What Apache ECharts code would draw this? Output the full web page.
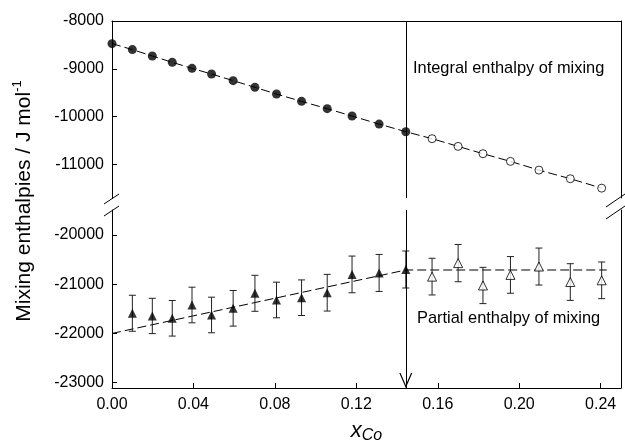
<!DOCTYPE html>
<html>
<head>
<meta charset="utf-8">
<script src="https://cdn.jsdelivr.net/npm/echarts@6/dist/echarts.min.js"></script>
<style>
  html, body { margin: 0; padding: 0; background: #fff; }
  #chart { width: 625px; height: 447px; }
</style>
</head>
<body>
<div id="chart"></div>
<script>
// integral enthalpy (upper panel)
const integralFilledX = [0, 0.0100, 0.0198, 0.0296, 0.0393, 0.0489, 0.0595, 0.0702, 0.0808, 0.0931, 0.1057, 0.1179, 0.1312, 0.1443]
const integralFilledY = [-8473, -8598, -8732, -8864, -8990, -9109, -9247, -9387, -9527, -9680, -9833, -9987, -10155, -10314]
const integralOpenX = [0.1572, 0.1700, 0.1822, 0.1957, 0.2097, 0.2251, 0.2405]
const integralOpenY = [-10460, -10621, -10774, -10935, -11117, -11297, -11494]

// partial enthalpy (lower panel)
const partialFilledX = [0.0100, 0.0198, 0.0296, 0.0393, 0.0489, 0.0595, 0.0702, 0.0808, 0.0931, 0.1057, 0.1179, 0.1312, 0.1443]
const partialFilledY = [-21590, -21645, -21692, -21422, -21625, -21489, -21184, -21320, -21274, -21172, -20800, -20770, -20700]
const partialFilledErr = [366, 359, 362, 362, 362, 362, 366, 362, 362, 373, 373, 376, 376]
const partialOpenX = [0.1572, 0.1700, 0.1822, 0.1957, 0.2097, 0.2251, 0.2405]
const partialOpenY = [-20845, -20570, -21025, -20810, -20640, -20955, -20920]
const partialOpenErr = [373, 379, 369, 373, 376, 373, 373]
const partialFitX = [0, 0.1443, 0.2430]
const partialFitY = [-22000, -20710, -20710]

const divisionX = 0.1443

const xTicks = [0, 0.04, 0.08, 0.12, 0.16, 0.20, 0.24]
const yTicksTop = [-8000, -9000, -10000, -11000]
const yTicksBottom = [-20000, -21000, -22000, -23000]

const FONT = '"Liberation Sans", Arial, Helvetica, sans-serif'
const topMin = -11700, topMax = -8000
const botMin = -23110, botMax = -19490

const zip = (xs, ys) => xs.map((x, i) => [x, ys[i]])
const zip3 = (xs, ys, es) => xs.map((x, i) => [x, ys[i], es[i]])

const chart = echarts.init(document.getElementById('chart'))

const axisLine = { show: true, onZero: false, lineStyle: { color: '#000', width: 1 } }
const lineOnly = {
  type: 'value',
  axisLine: axisLine,
  axisTick: { show: false },
  axisLabel: { show: false },
  splitLine: { show: false }
}
const labelStyle = { color: '#000', fontSize: 16, fontFamily: FONT }
const dashed = { color: '#000', width: 1, type: [9, 4] }
const plain = (v) => String(v)

const errorBars = (params, api) => {
  const x = api.value(0)
  const y = api.value(1)
  const e = api.value(2)
  const hi = api.coord([x, y + e])
  const lo = api.coord([x, y - e])
  const w = 3.5
  const style = { stroke: '#222', lineWidth: 1 }
  return {
    type: 'group',
    children: [
      { type: 'line', shape: { x1: hi[0], y1: hi[1], x2: lo[0], y2: lo[1] }, style: style },
      { type: 'line', shape: { x1: hi[0] - w, y1: hi[1], x2: hi[0] + w, y2: hi[1] }, style: style },
      { type: 'line', shape: { x1: lo[0] - w, y1: lo[1], x2: lo[0] + w, y2: lo[1] }, style: style }
    ]
  }
}

// open "V" arrow, tip at the centre of the symbol box
const arrowPath = 'path://M0,14 L5,0 L10,14 L9,14 L5,2.8 L1,14 Z M5,-14 L5.01,-14 Z'

const option = {
  animation: false,
  backgroundColor: '#fff',
  textStyle: { fontFamily: FONT },
  grid: [
    { left: 112, right: 4, top: 21, height: 177 },
    { left: 112, right: 4, top: 210, height: 178 }
  ],
  xAxis: [
    Object.assign({}, lineOnly, { gridIndex: 0, min: 0, max: 0.25, position: 'top' }),
    {
      type: 'value',
      gridIndex: 1,
      min: 0,
      max: 0.25,
      position: 'bottom',
      axisLine: axisLine,
      axisTick: { inside: true, length: 5, customValues: xTicks, lineStyle: { color: '#000' } },
      axisLabel: Object.assign({ customValues: xTicks, margin: 9, formatter: (v) => v.toFixed(2) }, labelStyle),
      splitLine: { show: false },
      name: '{x|x}{sub|Co}',
      nameLocation: 'middle',
      nameGap: 30,
      nameTextStyle: {
        rich: {
          x: { fontSize: 22, fontStyle: 'italic', fontFamily: FONT, color: '#000', lineHeight: 26 },
          sub: { fontSize: 16, fontStyle: 'italic', fontFamily: FONT, color: '#000', verticalAlign: 'bottom', lineHeight: 26 }
        }
      }
    }
  ],
  yAxis: [
    {
      type: 'value',
      gridIndex: 0,
      min: topMin,
      max: topMax,
      position: 'left',
      axisLine: axisLine,
      axisTick: { inside: true, length: 5, customValues: yTicksTop, lineStyle: { color: '#000' } },
      axisLabel: Object.assign({ customValues: yTicksTop, margin: 8, formatter: plain }, labelStyle),
      splitLine: { show: false }
    },
    Object.assign({}, lineOnly, { gridIndex: 0, min: topMin, max: topMax, position: 'right' }),
    {
      type: 'value',
      gridIndex: 1,
      min: botMin,
      max: botMax,
      position: 'left',
      axisLine: axisLine,
      axisTick: { inside: true, length: 5, customValues: yTicksBottom, lineStyle: { color: '#000' } },
      axisLabel: Object.assign({ customValues: yTicksBottom, margin: 8, formatter: plain }, labelStyle),
      splitLine: { show: false }
    },
    Object.assign({}, lineOnly, { gridIndex: 1, min: botMin, max: botMax, position: 'right' })
  ],
  series: [
    {
      name: 'integral fit',
      type: 'line',
      xAxisIndex: 0,
      yAxisIndex: 0,
      data: zip(integralFilledX.concat(integralOpenX), integralFilledY.concat(integralOpenY)),
      symbol: 'none',
      lineStyle: dashed,
      silent: true,
      z: 1,
      markLine: {
        silent: true,
        symbol: 'none',
        label: { show: false },
        lineStyle: { color: '#000', type: 'solid', width: 1 },
        data: [[{ coord: [divisionX, topMax] }, { coord: [divisionX, topMin] }]]
      }
    },
    {
      name: 'integral filled',
      type: 'scatter',
      xAxisIndex: 0,
      yAxisIndex: 0,
      data: zip(integralFilledX, integralFilledY),
      symbol: 'circle',
      symbolSize: 9,
      itemStyle: { color: '#000' },
      z: 3
    },
    {
      name: 'integral open',
      type: 'scatter',
      xAxisIndex: 0,
      yAxisIndex: 0,
      data: zip(integralOpenX, integralOpenY),
      symbol: 'circle',
      symbolSize: 8,
      itemStyle: { color: '#fff', borderColor: '#000', borderWidth: 1 },
      z: 3
    },
    {
      name: 'partial fit',
      type: 'line',
      xAxisIndex: 1,
      yAxisIndex: 2,
      data: zip(partialFitX, partialFitY),
      symbol: 'none',
      lineStyle: dashed,
      silent: true,
      z: 1,
      markLine: {
        silent: true,
        symbol: ['none', arrowPath],
        symbolSize: [13, 30],
        label: { show: false },
        lineStyle: { color: '#000', type: 'solid', width: 1 },
        data: [[{ coord: [divisionX, botMax] }, { coord: [divisionX, botMin] }]]
      }
    },
    {
      name: 'partial filled err',
      type: 'custom',
      xAxisIndex: 1,
      yAxisIndex: 2,
      data: zip3(partialFilledX, partialFilledY, partialFilledErr),
      renderItem: errorBars,
      z: 2
    },
    {
      name: 'partial open err',
      type: 'custom',
      xAxisIndex: 1,
      yAxisIndex: 2,
      data: zip3(partialOpenX, partialOpenY, partialOpenErr),
      renderItem: errorBars,
      z: 2
    },
    {
      name: 'partial filled',
      type: 'scatter',
      xAxisIndex: 1,
      yAxisIndex: 2,
      data: zip(partialFilledX, partialFilledY),
      symbol: 'triangle',
      symbolSize: 9,
      itemStyle: { color: '#000' },
      z: 3
    },
    {
      name: 'partial open',
      type: 'scatter',
      xAxisIndex: 1,
      yAxisIndex: 2,
      data: zip(partialOpenX, partialOpenY),
      symbol: 'triangle',
      symbolSize: 9,
      itemStyle: { color: '#fff', borderColor: '#000', borderWidth: 1 },
      z: 3
    }
  ],
  graphic: [
    {
      type: 'text',
      x: 24,
      y: 201,
      rotation: Math.PI / 2,
      style: {
        text: '{m|Mixing enthalpies / J mol}{s|-1}',
        align: 'center',
        verticalAlign: 'middle',
        rich: {
          m: { fontSize: 21, fontFamily: FONT, fill: '#000', lineHeight: 26 },
          s: { fontSize: 13, fontFamily: FONT, fill: '#000', verticalAlign: 'top', lineHeight: 26 }
        }
      }
    },
    {
      type: 'text',
      x: 413,
      y: 68,
      style: { text: 'Integral enthalpy of mixing', fontSize: 16.4, fontFamily: FONT, fill: '#000', align: 'left', verticalAlign: 'middle' }
    },
    {
      type: 'text',
      x: 417,
      y: 318,
      style: { text: 'Partial enthalpy of mixing', fontSize: 16.4, fontFamily: FONT, fill: '#000', align: 'left', verticalAlign: 'middle' }
    },
    // axis break marks
    { type: 'line', shape: { x1: 104, y1: 204, x2: 119, y2: 194 }, style: { stroke: '#000', lineWidth: 1 } },
    { type: 'line', shape: { x1: 104, y1: 216, x2: 119, y2: 206 }, style: { stroke: '#000', lineWidth: 1 } },
    { type: 'line', shape: { x1: 606, y1: 207, x2: 625, y2: 194 }, style: { stroke: '#000', lineWidth: 1 } },
    { type: 'line', shape: { x1: 606, y1: 219, x2: 625, y2: 206 }, style: { stroke: '#000', lineWidth: 1 } }
  ]
}

chart.setOption(option)
window.addEventListener('resize', () => chart.resize())
</script>
</body>
</html>
